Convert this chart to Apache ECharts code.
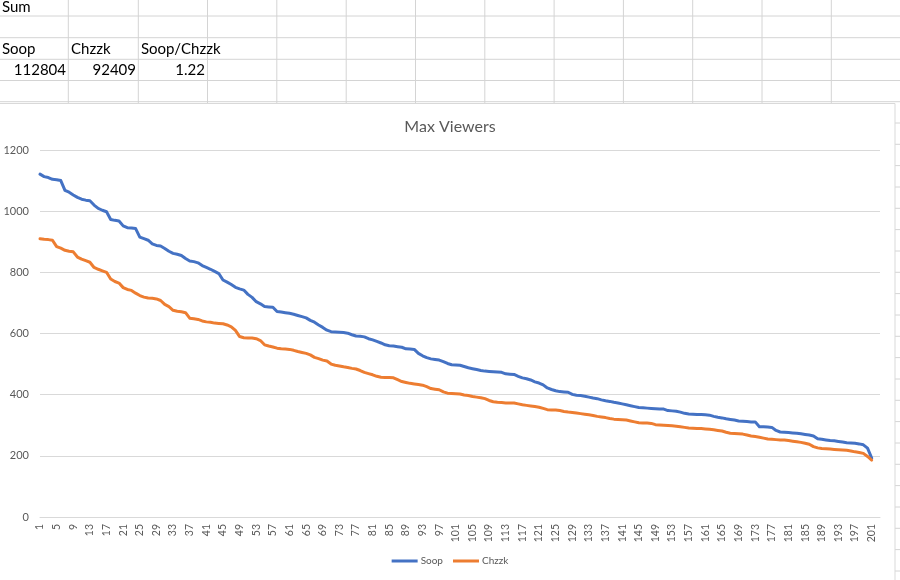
<!DOCTYPE html>
<html>
<head>
<meta charset="utf-8">
<script src="https://cdn.jsdelivr.net/npm/echarts@6/dist/echarts.min.js"></script>
<style>
html,body{margin:0;padding:0;background:#fff;}
#c{width:900px;height:580px;}
</style>
</head>
<body>
<div id="c"></div>
<script>
// ---- data ----
const categories = [];
for (let i = 1; i <= 203; i++) categories.push(String(i));

const soop = [
1121,1113,1110,1104,1103,1100,1068,1062,1053,1045,
1039,1036,1034,1020,1009,1003,998,973,970,968,
952,946,945,943,915,910,905,893,888,886,
878,869,862,859,855,845,837,835,831,822,
816,810,803,796,775,768,760,751,746,742,
728,718,704,697,688,687,686,672,670,668,
666,663,659,655,651,643,637,628,620,611,
606,605,604,603,601,596,592,591,589,583,
579,574,569,563,560,559,557,555,550,549,
548,535,527,521,517,515,513,508,502,498,
497,496,492,488,485,482,479,477,476,475,
474,473,468,467,466,460,455,452,448,442,
438,432,422,417,413,410,409,408,401,398,
397,395,392,389,387,383,380,378,375,373,
370,367,364,361,358,357,356,355,354,353,
353,348,347,346,343,339,337,336,335,335,
334,333,329,326,324,321,319,317,314,313,
312,311,311,295,295,294,293,283,278,277,
276,275,274,272,270,268,265,256,254,252,
250,249,247,245,243,242,241,239,236,225,
193];

const chzzk = [
910,908,907,905,884,879,872,869,867,850,
843,838,833,816,810,805,800,778,770,765,
750,744,741,732,724,719,716,715,713,708,
695,688,676,673,671,668,650,648,646,641,
638,637,634,633,632,628,622,610,590,586,
585,585,583,577,563,559,556,552,550,549,
548,545,541,538,535,530,522,518,513,510,
500,496,494,491,489,486,484,479,473,469,
465,460,457,456,456,455,449,443,440,437,
435,433,431,426,420,418,416,409,405,404,
403,402,399,397,394,392,390,387,381,377,
375,374,373,373,373,370,367,365,363,361,
359,355,351,350,350,348,345,343,342,340,
338,336,334,332,329,327,325,322,320,319,
318,317,314,311,308,307,307,306,302,301,
300,299,298,297,295,293,291,290,289,289,
288,287,285,283,281,277,274,273,272,271,
268,265,263,261,258,255,254,253,252,252,
250,248,246,244,241,238,230,226,224,223,
222,221,220,219,218,216,213,211,208,198,
186];

const seriesNames = ['Soop', 'Chzzk'];
const sheetHeaders = ['Soop', 'Chzzk', 'Soop/Chzzk'];
const sheetValues = ['112804', '92409', '1.22'];
const sheetTitle = 'Sum';

// ---- spreadsheet background ----
const colX = [68.3, 138.3, 207.5, 276.8, 346.2, 415.5, 484.8, 554.1, 623.4, 692.7, 762, 831.3];
const rowY = [16, 37.7, 59.3, 80.5, 101.7, 123, 144.3, 165.6, 187, 208.3, 229.6, 251, 272.3, 293.6, 315, 336.3, 357.6, 379, 400.3, 421.6, 443, 464.3, 485.6, 507, 528.3, 549.6, 571];
const graphics = [];
const gridColor = '#d4d4d4';
rowY.forEach(y => graphics.push({type:'line', z:-20, shape:{x1:0,y1:y,x2:900,y2:y}, style:{stroke:gridColor, lineWidth:1}}));
colX.forEach(x => graphics.push({type:'line', z:-20, shape:{x1:x,y1:0,x2:x,y2:104}, style:{stroke:gridColor, lineWidth:1}}));
// chart area
graphics.push({type:'rect', z:-10, shape:{x:-1,y:103.5,width:896,height:480}, style:{fill:'#ffffff', stroke:'#d9d9d9', lineWidth:1}});
// sheet texts
const sheetFont = '15px Lato, "Liberation Sans", sans-serif';
graphics.push({type:'text', z:-5, style:{text:sheetTitle, x:2, y:7, font:sheetFont, fill:'#000', verticalAlign:'middle'}});
const headerX = [2, 71, 141];
sheetHeaders.forEach((t,i) => graphics.push({type:'text', z:-5, style:{text:t, x:headerX[i], y:49, font:sheetFont, fill:'#000', verticalAlign:'middle'}}));
const valueRight = [66, 136, 205];
sheetValues.forEach((t,i) => graphics.push({type:'text', z:-5, style:{text:t, x:valueRight[i], y:70, font:sheetFont, fill:'#000', align:'right', verticalAlign:'middle'}}));

const chart = echarts.init(document.getElementById('c'), null, {renderer:'canvas'});
chart.setOption({
  animation: false,
  backgroundColor: 'transparent',
  textStyle: {fontFamily: 'Lato, "Liberation Sans", sans-serif'},
  title: {
    text: 'Max Viewers',
    left: 'center',
    top: 114,
    textStyle: {fontSize: 16, fontWeight: 'normal', color: '#595959', fontFamily: 'Lato, "Liberation Sans", sans-serif'}
  },
  legend: {
    data: seriesNames,
    bottom: 9,
    left: 'center',
    icon: 'rect',
    itemWidth: 26,
    itemHeight: 3,
    itemGap: 10,
    textStyle: {fontSize: 10, color: '#595959', padding:[0,0,0,-2]}
  },
  grid: {left: 40, right: 20, top: 150, bottom: 63, containLabel: false, outerBoundsMode: 'none'},
  xAxis: {
    type: 'category',
    data: categories,
    boundaryGap: false,
    axisLine: {lineStyle: {color: '#d9d9d9'}},
    axisTick: {show: false},
    axisLabel: {interval: 3, rotate: 90, fontSize: 10.5, color: '#595959', margin: 7},
    splitLine: {show: false}
  },
  yAxis: {
    type: 'value',
    min: 0, max: 1200, interval: 200,
    axisLine: {show: false},
    axisTick: {show: false},
    axisLabel: {fontSize: 11, color: '#595959', margin: 11, formatter: v => String(v)},
    splitLine: {lineStyle: {color: '#d9d9d9'}}
  },
  series: [
    {name: seriesNames[0], type: 'line', data: soop, showSymbol: false, symbol: 'none', color: '#4472C4',
     lineStyle: {width: 3, color: '#4472C4', cap: 'round', join: 'round'}},
    {name: seriesNames[1], type: 'line', data: chzzk, showSymbol: false, symbol: 'none', color: '#ED7D31',
     lineStyle: {width: 3, color: '#ED7D31', cap: 'round', join: 'round'}}
  ],
  graphic: graphics
});
</script>
</body>
</html>
